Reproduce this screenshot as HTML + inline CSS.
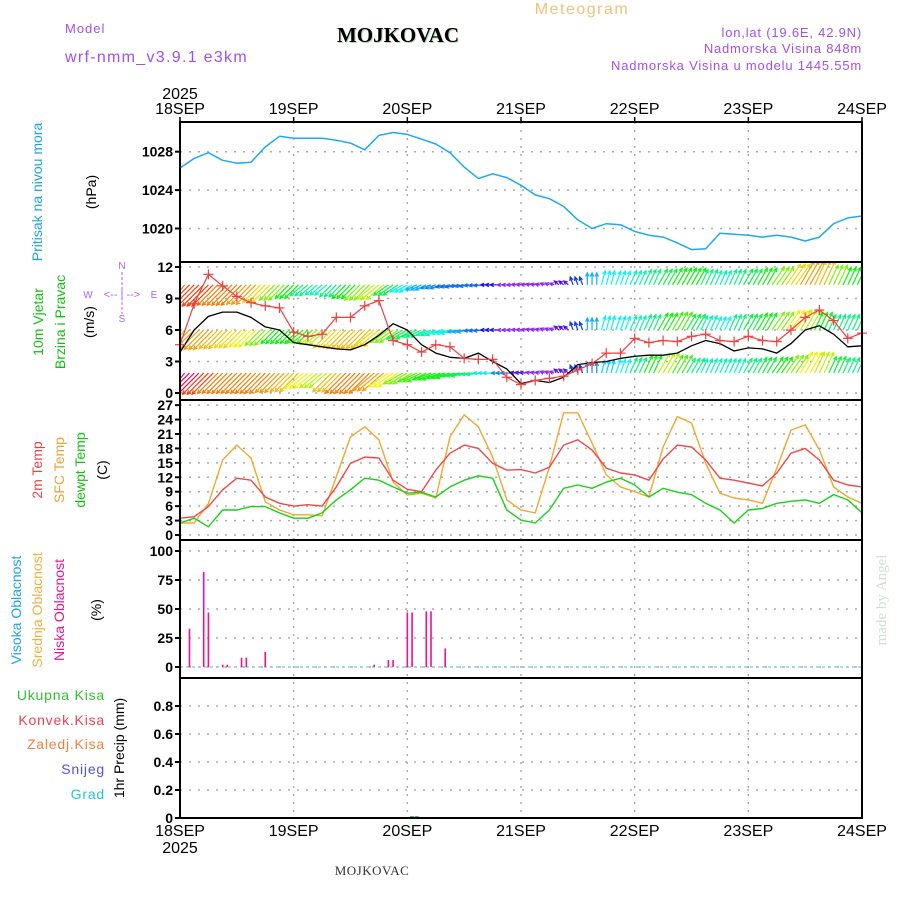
<!DOCTYPE html>
<html><head><meta charset="utf-8">
<style>
html,body{margin:0;padding:0;background:#fff;}
svg{display:block;font-family:"Liberation Sans",sans-serif;}
</style></head>
<body>
<svg id="chart" width="900" height="900" viewBox="0 0 900 900" xmlns="http://www.w3.org/2000/svg">
<g id="header">
  <text x="582" y="14" text-anchor="middle" font-size="16" fill="#f0c27a" letter-spacing="1.5">Meteogram</text>
  <text x="65" y="33" font-size="13" fill="#a050f0" letter-spacing="1">Model</text>
  <text x="399" y="43" text-anchor="middle" font-size="21" font-weight="bold" font-family="Liberation Serif,serif" fill="#b8d8b8">MOJKOVAC</text>
  <text x="398" y="42" text-anchor="middle" font-size="21" font-weight="bold" font-family="Liberation Serif,serif" fill="#000">MOJKOVAC</text>
  <text x="65" y="62" font-size="16" fill="#a050f0" letter-spacing="1.3">wrf-nmm_v3.9.1 e3km</text>
  <text x="862" y="37" text-anchor="end" font-size="13" fill="#a050f0" letter-spacing="0.8">lon,lat (19.6E, 42.9N)</text>
  <text x="862" y="53" text-anchor="end" font-size="13" fill="#a050f0" letter-spacing="0.8">Nadmorska Visina 848m</text>
  <text x="862" y="70" text-anchor="end" font-size="13" fill="#a050f0" letter-spacing="0.8">Nadmorska Visina u modelu 1445.55m</text>
</g>
<g id="grid"></g>
<g id="marks"></g>
<g id="frames"></g>
<g id="labels" font-size="14">
  <text transform="translate(42,192) rotate(-90)" text-anchor="middle" fill="#1ea0f0">Pritisak na nivou mora</text>
  <text transform="translate(96,192) rotate(-90)" text-anchor="middle" fill="#000">(hPa)</text>
  <text transform="translate(43,322) rotate(-90)" text-anchor="middle" fill="#10c010">10m Vjetar</text>
  <text transform="translate(65,322) rotate(-90)" text-anchor="middle" fill="#10c010">Brzina i Pravac</text>
  <text transform="translate(94,322) rotate(-90)" text-anchor="middle" fill="#000">(m/s)</text>
  <g fill="#b060f0" font-size="10">
    <text x="122" y="269" text-anchor="middle">N</text>
    <text x="122" y="322" text-anchor="middle">S</text>
    <text x="88" y="298" text-anchor="middle">W</text>
    <text x="154" y="298" text-anchor="middle">E</text>
    <text x="122" y="298" text-anchor="middle" font-size="11">&lt;-- | --&gt;</text>
    <line x1="122" y1="272" x2="122" y2="314" stroke="#b060f0" stroke-dasharray="3,2"/>
  </g>
  <text transform="translate(42,470) rotate(-90)" text-anchor="middle" fill="#f04040">2m Temp</text>
  <text transform="translate(64,470) rotate(-90)" text-anchor="middle" fill="#f0a030">SFC Temp</text>
  <text transform="translate(85,470) rotate(-90)" text-anchor="middle" fill="#10c010">dewpt Temp</text>
  <text transform="translate(107,470) rotate(-90)" text-anchor="middle" fill="#000">(C)</text>
  <text transform="translate(21,610) rotate(-90)" text-anchor="middle" fill="#1ea0f0">Visoka Oblacnost</text>
  <text transform="translate(42,610) rotate(-90)" text-anchor="middle" fill="#f0b040">Srednja Oblacnost</text>
  <text transform="translate(64,610) rotate(-90)" text-anchor="middle" fill="#f01090">Niska Oblacnost</text>
  <text transform="translate(101,610) rotate(-90)" text-anchor="middle" fill="#000">(%)</text>
  <g font-size="14" text-anchor="end" letter-spacing="0.8">
    <text x="105" y="700" fill="#30c030">Ukupna  Kisa</text>
    <text x="105" y="725" fill="#f04050">Konvek.Kisa</text>
    <text x="105" y="749" fill="#f08040">Zaledj.Kisa</text>
    <text x="105" y="774" fill="#5050f0">Snijeg</text>
    <text x="105" y="799" fill="#20c8d0">Grad</text>
  </g>
  <text transform="translate(124,748) rotate(-90)" text-anchor="middle" fill="#000">1hr Precip (mm)</text>
  <text transform="translate(886,600) rotate(-90)" text-anchor="middle" fill="#d0e0d0" font-size="15" font-family="Liberation Serif,serif">made by Angel</text>
  <text x="372" y="875" text-anchor="middle" font-family="Liberation Serif,serif" font-size="13" fill="#333" letter-spacing="0.5">MOJKOVAC</text>
</g>
</svg>
<script>
// ---- data (3-hourly from 18SEP 00UTC) ----
const dayLabels = ["18SEP","19SEP","20SEP","21SEP","22SEP","23SEP","24SEP"];
const pressure = [1026.3,1027.3,1027.9,1027.1,1026.8,1026.9,1028.5,1029.6,
  1029.4,1029.4,1029.4,1029.2,1028.9,1028.2,1029.7,1030.0,
  1029.8,1029.3,1028.8,1027.9,1026.4,1025.2,1025.7,1025.3,
  1024.5,1023.5,1023.1,1022.3,1020.9,1020.0,1020.5,1020.4,
  1019.7,1019.3,1019.1,1018.5,1017.8,1017.9,1019.5,1019.4,
  1019.3,1019.1,1019.3,1019.1,1018.7,1019.1,1020.5,1021.1,1021.3];
const pressureTicks = [1020,1024,1028];
const windSpeed = [3.9,6.0,7.3,7.7,7.7,7.2,6.3,6.0,
  4.8,4.6,4.4,4.2,4.1,4.6,5.5,6.6,
  6.0,4.6,3.8,3.4,3.3,3.8,3.0,2.3,
  0.9,1.2,1.0,1.5,2.7,2.9,3.0,3.3,
  3.5,3.6,3.6,3.8,4.5,5.0,4.7,4.0,
  4.3,4.2,3.8,4.7,6.0,6.4,5.6,4.4,4.5];
const windGust = [4.6,8.5,11.3,10.2,9.2,8.6,8.3,8.1,
  5.8,5.4,5.6,7.2,7.2,8.3,8.8,5.0,
  4.6,3.9,4.6,4.4,3.3,3.2,3.2,1.5,
  0.8,1.2,1.4,1.6,2.2,2.8,3.8,3.8,
  5.2,4.8,5.0,4.9,5.4,5.6,5.0,4.9,
  5.4,5.0,4.9,6.0,7.2,7.9,6.9,5.2,5.7];
const windDir = [40,45,45,45,45,45,45,45,
  45,50,50,45,45,45,50,55,
  60,65,70,75,80,85,90,90,
  95,100,110,130,160,180,195,200,
  205,205,210,210,210,205,205,205,
  210,210,215,215,210,205,205,205,205];
const rowSpeed1 = [12,12.5,12.5,12,12,11.5,10.5,9,
  8,7,6.5,7,8,9,9.5,7.5,
  6,5,4.5,4,4,4,3,2,
  2,2,2,2.5,3.5,5,6,6,
  6.5,7,7.5,8,8,7,6.5,7,
  7.5,8,9,10.5,11.5,11,9,8,8];
const rowSpeed2 = [11,11.5,11.5,11,10.5,10,9,8,
  8,8.5,9.5,10.5,11,11,10.5,9,
  7.5,7,6.5,6,5,4,3,2,
  2,2,2,2.5,3.5,5,6,6,
  6.5,7,8,8.5,7.5,6.5,6,7,
  7.5,8,9,10,9.5,8,7,7,7];
const rowSpeed3 = [14,13.5,12.5,12,12,12,12,11.5,
  11,10,9.5,11,12,12,11.5,10,
  9,8.5,8,8,7.5,7,6,4.5,
  2.5,2,2,2.5,3.5,4.5,5.5,6,
  7,8,9.5,8.5,7,6.5,6.5,6.5,
  7,7.5,8,9,10,9.5,7.5,7,6.5];
const rowLevels = [10.3, 6.0, 1.9];
const windTicks = [0,3,6,9,12];
const temp2m = [3.5,3.8,5.9,9.4,11.8,11.4,7.9,6.6,
  6.0,6.3,6.0,10.0,14.9,16.2,16.0,11.4,
  9.5,9.0,13.5,17.0,18.7,18.0,14.9,13.5,
  13.6,12.9,14.1,18.7,19.8,17.7,13.9,12.9,
  12.5,11.4,15.8,18.7,18.3,15.6,11.8,11.4,
  10.8,10.2,12.9,17.0,18.0,15.6,11.4,10.4,10.0];
const tempSfc = [2.5,2.5,6.5,15.6,18.7,16.0,6.9,5.2,
  4.2,4.2,4.0,12.1,20.4,22.5,19.8,11.0,
  8.3,8.7,7.7,20.4,25.0,22.5,16.2,7.3,
  5.2,4.6,14.1,25.4,25.4,19.1,12.5,10.0,
  9.0,7.9,18.3,24.6,23.3,14.9,8.7,7.7,
  7.3,6.6,13.9,21.8,22.9,17.7,10.0,7.9,6.6];
const dewpt = [2.5,3.5,1.7,5.2,5.2,5.9,5.9,4.6,
  3.5,3.5,4.6,7.3,9.4,11.8,11.4,10.0,
  8.7,8.9,7.9,10.0,11.4,12.3,11.8,5.2,
  3.1,2.5,5.2,9.7,10.4,9.7,11.0,11.8,
  10.4,7.9,9.7,8.9,8.4,6.6,5.2,2.5,
  5.2,5.5,6.6,7.0,7.3,6.6,8.4,7.3,4.6];
const tempTicks = [0,3,6,9,12,15,18,21,24,27];
const lowCloudHours = [2,5,6,9,10,13,14,18,41,44,45,48,49,52,53,56];
const lowCloudValues = [33,82,47,2,2,8,8,13,2,6,6,47,47,48,48,16];
const cloudTicks = [0,25,50,75,100];
const precipHours = [49,50];
const precipValues = [0.006,0.006];
const precipTicks = [0,0.2,0.4,0.6,0.8];

// ---- layout ----
const X0=180, X1=862, NDAY=6;
const xT = i => X0 + i*(X1-X0)/(NDAY*8);      // 3-hourly index
const xH = h => X0 + h*(X1-X0)/(NDAY*24);     // hour
const yP = v => 151.7 - (v-1028)*9.6;
const yW = v => 393 - v*10.5;
const yT = v => 535 - v*4.81;
const yC = v => 667 - v*1.16;
const yR = v => 818 - v*140;
const panels = [[122,262],[262,400],[400,540],[540,678],[678,818]];
const NS="http://www.w3.org/2000/svg";
function mk(tag, attrs, parent){const e=document.createElementNS(NS,tag);for(const k in attrs)e.setAttribute(k,attrs[k]);parent.appendChild(e);return e;}
const grid=document.getElementById('grid'), marks=document.getElementById('marks'), frames=document.getElementById('frames');

// vertical day grid
for(let d=1; d<NDAY; d++){
  const x=X0+d*(X1-X0)/NDAY;
  const l=mk('line',{x1:x,y1:122,x2:x,y2:818,stroke:'#aaa','stroke-width':1.5,'stroke-dasharray':'2,6'},grid);
  
  
}
function hgrid(ticks, yf, fmt){
  ticks.forEach(t=>{
    const y=yf(t);
    const l=mk('line',{x1:X0,y1:y,x2:X1,y2:y,stroke:'#aaa','stroke-width':1.5,'stroke-dasharray':'2,7'},grid);
    
    
    mk('line',{x1:X0-5,y1:y,x2:X0,y2:y,stroke:'#000','stroke-width':2},frames);
    const tx=mk('text',{x:X0-7,y:y+5,'text-anchor':'end','font-size':14,'font-weight':'bold',fill:'#000'},frames);
    tx.textContent=fmt(t);
    
    
  });
}
hgrid(pressureTicks,yP,t=>t);
hgrid(windTicks,yW,t=>t);
hgrid(tempTicks,yT,t=>t);
hgrid(cloudTicks,yC,t=>t);
hgrid(precipTicks,yR,t=>t===0?'0':t.toFixed(1));

// frames
panels.forEach(p=>{
  const r=mk('rect',{x:X0,y:p[0],width:X1-X0,height:p[1]-p[0],fill:'none',stroke:'#000','stroke-width':2},frames);
  
  
});
// day labels
dayLabels.forEach((d,i)=>{
  const x=X0+i*(X1-X0)/NDAY;
  mk('line',{x1:x,y1:117,x2:x,y2:122,stroke:'#000','stroke-width':1.5},frames);
  const t=mk('text',{x:x,y:114,'text-anchor':'middle','font-size':16,fill:'#000'},frames); t.textContent=d;
  
  
  const b=mk('text',{x:x,y:836,'text-anchor':'middle','font-size':16,fill:'#000'},frames); b.textContent=d;
  
  
});
{const t=mk('text',{x:X0,y:99,'text-anchor':'middle','font-size':16},frames);t.textContent='2025';


const b=mk('text',{x:X0,y:853,'text-anchor':'middle','font-size':16},frames);b.textContent='2025';

}

function line(arr, yf, color, w, name){
  const pts=arr.map((v,i)=>xT(i).toFixed(1)+','+yf(v).toFixed(1)).join(' ');
  const p=mk('polyline',{points:pts,fill:'none',stroke:color,'stroke-width':w,'stroke-linejoin':'round'},marks);
  
  
}
// pressure
line(pressure,yP,'#1ea8f5',1.5,'pressure-line');

// wind arrows
const stops=[[2,270],[4,215],[6,180],[8,120],[10,60],[12,30],[14,-35]];
function speedColor(s){
  if(s<=stops[0][0]) return 'hsl(270,90%,55%)';
  for(let k=1;k<stops.length;k++){
    if(s<=stops[k][0]){const a=stops[k-1],b=stops[k];const f=(s-a[0])/(b[0]-a[0]);let h=a[1]+f*(b[1]-a[1]);return 'hsl('+((h+360)%360)+',90%,50%)';}
  }
  return 'hsl(325,90%,50%)';
}
const windG=mk('g',{'clip-path':'url(#wclip)'},marks);
{const defs=mk('defs',{},document.getElementById('chart'));const cp=mk('clipPath',{id:'wclip'},defs);mk('rect',{x:X0,y:262,width:X1-X0,height:138},cp);}
[rowSpeed1,rowSpeed2,rowSpeed3].forEach((row,r)=>{
  row.forEach((s,i)=>{
    const toward=(windDir[i]+180)*Math.PI/180;
    const L=s*2.4;
    const dx=Math.sin(toward)*L, dy=-Math.cos(toward)*L;
    const col=speedColor(s);
    for(let k=-1;k<=1;k++){
      const x=xT(i)+k*(X1-X0)/(NDAY*24);
      if(x<X0-1||x>X1+1) continue;
      const y=yW(rowLevels[r]);
      const g=mk('g',{stroke:col,'stroke-width':1.2,fill:'none'},windG);
      
      
      mk('line',{x1:x,y1:y,x2:x+dx,y2:y+dy},g);
      const a=Math.atan2(dy,dx), hl=4;
      mk('polyline',{points:(x+dx-hl*Math.cos(a-0.45))+','+(y+dy-hl*Math.sin(a-0.45))+' '+(x+dx)+','+(y+dy)+' '+(x+dx-hl*Math.cos(a+0.45))+','+(y+dy-hl*Math.sin(a+0.45))},g);
    }
  });
});
line(windSpeed,yW,'#000',1.3,'wind-speed-line');
line(windGust,yW,'#f04040',1.2,'wind-gust-line');
windGust.forEach((v,i)=>{
  const x=xT(i), y=yW(v);
  const g=mk('g',{stroke:'#f04040','stroke-width':1.2},marks);
  
  
  mk('line',{x1:x-5,y1:y,x2:x+5,y2:y},g);
  mk('line',{x1:x,y1:y-5,x2:x,y2:y+5},g);
});

// temperature
line(tempSfc,yT,'#f0a830',1.4,'sfc-temp-line');
line(temp2m,yT,'#f04848',1.4,'temp-2m-line');
line(dewpt,yT,'#18d018',1.4,'dewpoint-line');

// clouds baseline
{const b=mk('line',{x1:X0,y1:yC(0),x2:X1,y2:yC(0),stroke:'#9ac8e8','stroke-width':1.5,'stroke-dasharray':'3,3'},marks);

}
lowCloudHours.forEach((h,i)=>{
  const x=xH(h);
  const r=mk('rect',{x:x-0.8,y:yC(lowCloudValues[i]),width:1.6,height:yC(0)-yC(lowCloudValues[i]),fill:'#f01090'},marks);
  
  
});
// precip
precipHours.forEach((h,i)=>{
  const x=xH(h);
  const r=mk('rect',{x:x-2,y:yR(precipValues[i])-1,width:4,height:Math.max(1.5,yR(0)-yR(precipValues[i])),fill:'#20c020'},marks);
  
  
});
</script>
</body></html>
